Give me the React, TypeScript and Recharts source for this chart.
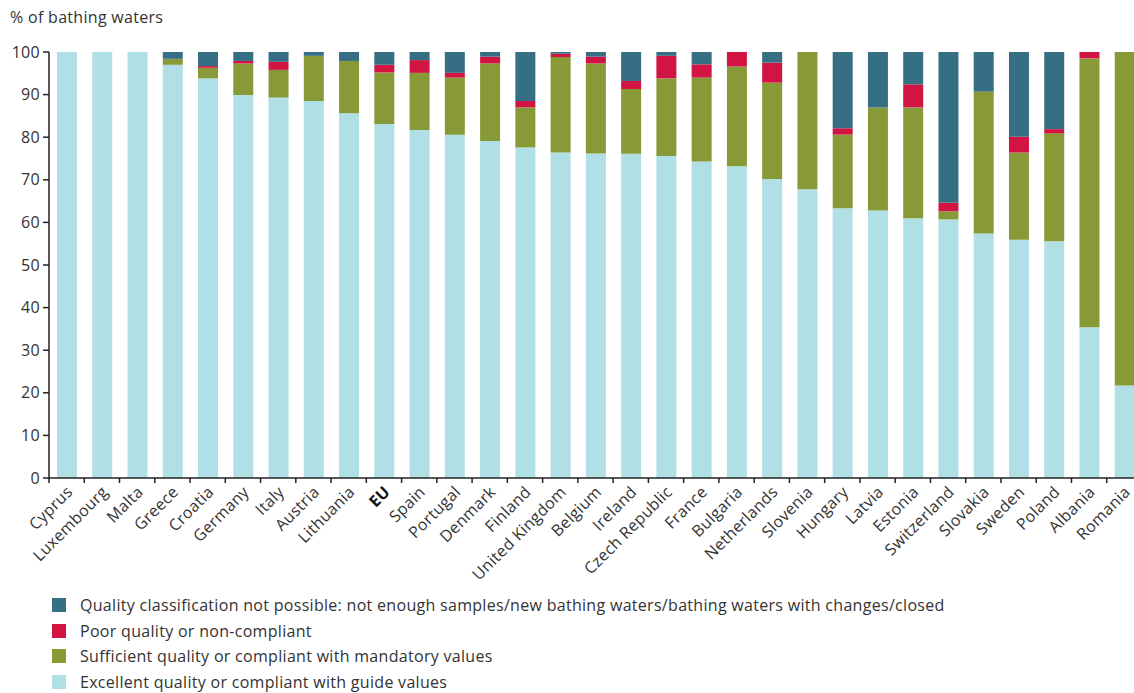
import React from 'react';
import { BarChart, Bar, XAxis, YAxis, Legend } from 'recharts';

// categories, ordered by share of excellent bathing waters
const countries = [
  'Cyprus', 'Luxembourg', 'Malta', 'Greece', 'Croatia', 'Germany', 'Italy', 'Austria', 'Lithuania', 'EU',
  'Spain', 'Portugal', 'Denmark', 'Finland', 'United Kingdom', 'Belgium', 'Ireland', 'Czech Republic', 'France', 'Bulgaria',
  'Netherlands', 'Slovenia', 'Hungary', 'Latvia', 'Estonia', 'Switzerland', 'Slovakia', 'Sweden', 'Poland', 'Albania', 'Romania',
];

const excellent = [
  100, 100, 100, 97.0, 93.8, 89.9, 89.3, 88.5, 85.6, 83.1,
  81.7, 80.6, 79.1, 77.6, 76.4, 76.2, 76.1, 75.6, 74.3, 73.2,
  70.2, 67.8, 63.3, 62.8, 61.0, 60.7, 57.4, 55.9, 55.6, 35.4, 21.7,
];
const sufficient = [
  0, 0, 0, 1.4, 2.5, 7.4, 6.5, 10.6, 12.3, 12.1,
  13.4, 13.4, 18.2, 9.4, 22.4, 21.1, 15.2, 18.2, 19.7, 23.4,
  22.6, 32.2, 17.3, 24.2, 26.0, 1.9, 33.3, 20.5, 25.3, 63.1, 78.3,
];
const poor = [
  0, 0, 0, 0, 0.4, 0.6, 1.9, 0, 0, 1.8,
  3.0, 1.1, 1.6, 1.5, 0.8, 1.6, 1.9, 5.3, 3.1, 3.4,
  4.7, 0, 1.5, 0, 5.4, 2.0, 0, 3.7, 1.0, 1.5, 0,
];
const notClassified = [
  0, 0, 0, 1.6, 3.3, 2.1, 2.3, 0.9, 2.1, 3.0,
  1.9, 4.9, 1.1, 11.5, 0.4, 1.1, 6.8, 0.9, 2.9, 0,
  2.5, 0, 17.9, 13.0, 7.6, 35.4, 9.3, 19.9, 18.1, 0, 0,
];

const yTicks = [0, 10, 20, 30, 40, 50, 60, 70, 80, 90, 100];

// legend order (top to bottom), same as the stack read from the top
const series = [
  { key: 'na', name: 'Quality classification not possible: not enough samples/new bathing waters/bathing waters with changes/closed', color: '#366e83' },
  { key: 'poor', name: 'Poor quality or non-compliant', color: '#d21443' },
  { key: 'sufficient', name: 'Sufficient quality or compliant with mandatory values', color: '#879a37' },
  { key: 'excellent', name: 'Excellent quality or compliant with guide values', color: '#b0e0e6' },
];

const data = countries.map((country, i) => ({
  country,
  excellent: excellent[i],
  sufficient: sufficient[i],
  poor: poor[i],
  na: notClassified[i],
}));

const FONT = '"Open Sans", "Noto Sans", sans-serif';
const FS = 16;
const LS = '0.3px';
const AXIS = '#222';
const TEXT = '#333';

function CountryTick(props: any) {
  const { x, y, payload } = props;
  const half = payload.offset || 17.6;
  const isEU = payload.value === 'EU';
  return (
    <g>
      <line x1={x - half} x2={x - half} y1={y - 6} y2={y - 1} stroke={AXIS} strokeWidth={1.5} />
      <g transform={`translate(${x + 7},${y + 9})`}>
        <text
          x={0}
          y={0}
          textAnchor="end"
          transform="rotate(-45)"
          fontSize={FS}
          fontFamily={FONT}
          letterSpacing={LS}
          fontWeight={isEU ? 700 : 400}
          fill={isEU ? '#111' : TEXT}
        >
          {payload.value}
        </text>
      </g>
    </g>
  );
}

function LegendBox() {
  return (
    <div style={{ fontFamily: FONT, fontSize: FS, letterSpacing: LS, color: TEXT }}>
      {series.map((s) => (
        <div key={s.key} style={{ display: 'flex', alignItems: 'center', height: 25.7 }}>
          <span style={{ width: 14, height: 14, background: s.color, display: 'inline-block', marginRight: 14 }} />
          <span style={{ whiteSpace: 'nowrap' }}>{s.name}</span>
        </div>
      ))}
    </div>
  );
}

export default function App() {
  return (
    <div style={{ position: 'absolute', left: 0, top: 0, width: 1134, height: 693, overflow: 'hidden', background: '#fff', fontFamily: FONT }}>
      <div style={{ position: 'absolute', left: 10, top: 6, fontSize: FS, letterSpacing: LS, color: TEXT }}>% of bathing waters</div>
      <BarChart width={1150} height={693} data={data} margin={{ top: 52, right: 8, left: 0, bottom: 0 }}>
        <XAxis
          dataKey="country"
          interval={0}
          height={215}
          tickLine={false}
          tickSize={6}
          tickMargin={0}
          axisLine={{ stroke: AXIS, strokeWidth: 1.5 }}
          tick={<CountryTick />}
        />
        <YAxis
          width={49}
          domain={[0, 100]}
          ticks={yTicks}
          interval={0}
          tickSize={6}
          tickMargin={3}
          axisLine={{ stroke: AXIS, strokeWidth: 1.5 }}
          tickLine={{ stroke: AXIS, strokeWidth: 1.5 }}
          tick={{ fill: TEXT, fontSize: FS, fontFamily: FONT, letterSpacing: LS }}
        />
        <Legend
          layout="vertical"
          align="center"
          verticalAlign="middle"
          content={<LegendBox />}
          wrapperStyle={{ left: 52, top: 592, width: 'auto' }}
        />
        <Bar dataKey="excellent" stackId="a" fill="#b0e0e6" barSize={20} isAnimationActive={false} />
        <Bar dataKey="sufficient" stackId="a" fill="#879a37" barSize={20} isAnimationActive={false} />
        <Bar dataKey="poor" stackId="a" fill="#d21443" barSize={20} isAnimationActive={false} />
        <Bar dataKey="na" stackId="a" fill="#366e83" barSize={20} isAnimationActive={false} />
      </BarChart>
    </div>
  );
}
